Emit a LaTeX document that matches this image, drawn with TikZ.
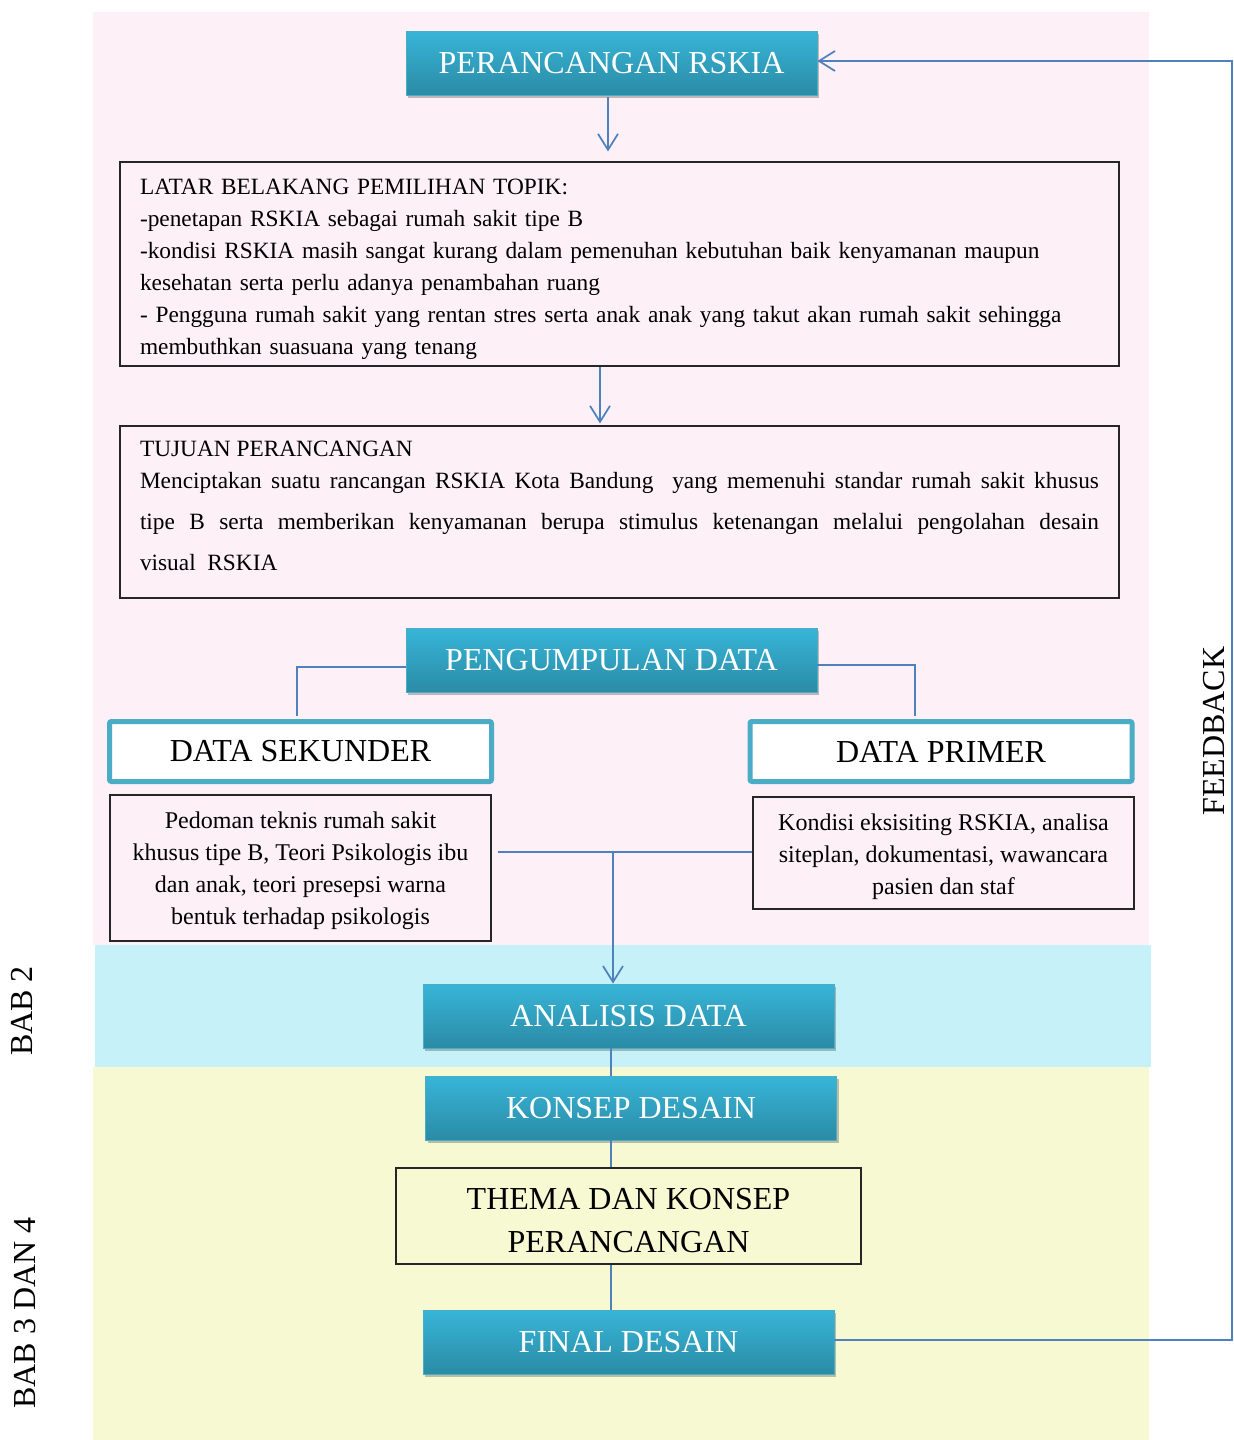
\documentclass[tikz,border=0pt]{standalone}
\usepackage{fontspec}
\setmainfont{Liberation Serif}
\usetikzlibrary{arrows.meta,shadows}
\definecolor{bgpink}{RGB}{253,240,246}
\definecolor{bgblue}{RGB}{198,241,249}
\definecolor{bgyellow}{RGB}{247,249,211}
\definecolor{hdrtop}{RGB}{56,181,216}
\definecolor{hdrbot}{RGB}{42,139,165}
\definecolor{hdredge}{RGB}{75,172,198}
\definecolor{linkblue}{RGB}{79,129,189}
\hyphenpenalty=10000
\begin{document}
\begin{tikzpicture}[x=0.75pt,y=-0.75pt,
  hdr/.style={top color=hdrtop, bottom color=hdrbot, draw=hdredge, line width=0.6pt,
    text=white, font=\fontsize{24pt}{28pt}\selectfont, minimum width=308.25pt,
    minimum height=48pt, inner sep=0pt,
    drop shadow={shadow xshift=1.5pt, shadow yshift=-2.5pt, opacity=0.35, fill=black!70}},
  txtbox/.style={draw=black!85, line width=0.8pt, inner sep=0pt,
    font=\fontsize{18pt}{24pt}\selectfont},
  srcbox/.style={draw=hdredge, line width=3.75pt, fill=white, rounded corners=1.5pt,
    minimum width=286.5pt, minimum height=45pt, font=\fontsize{24pt}{28pt}\selectfont},
  link/.style={draw=linkblue, line width=1.3pt},
  arr/.style={link, -{Straight Barb[length=12pt,width=15pt]}},
  side/.style={rotate=90, font=\fontsize{24pt}{28pt}\selectfont}]
 	\useasboundingbox (0,0) rectangle (1234,1440);
 	% bands
 	\fill[bgpink] (93,12) rectangle (1149,945);
 	\fill[bgblue] (95,945) rectangle (1151,1067);
 	\fill[bgyellow] (93,1067) rectangle (1149,1440);
 	% nodes
 	\node[hdr] (top) at (611.5,63) {PERANCANGAN RSKIA};
 	\node[txtbox, minimum width=749.25pt, minimum height=153pt, text width=719.25pt, align=left,
 	   font=\fontsize{17.5pt}{24pt}\selectfont] (bg) at (619.5,264)
 	   {\rule{0pt}{19pt}LATAR BELAKANG PEMILIHAN TOPIK:\\
 	    -penetapan RSKIA sebagai rumah sakit tipe B\\
 	    -kondisi RSKIA masih sangat kurang dalam pemenuhan kebutuhan baik kenyamanan maupun\\
 	    kesehatan serta perlu adanya penambahan ruang\\
 	    - Pengguna rumah sakit yang rentan stres serta anak anak yang takut akan rumah sakit sehingga\\
 	    membuthkan suasuana yang tenang};
 	\node[txtbox, minimum width=749.25pt, minimum height=129pt, text width=719.25pt, align=justify,
 	   font=\fontsize{17.5pt}{24pt}\selectfont] (goal) at (619.5,512)
 	   {\parindent=0pt\tolerance=10000
 	    TUJUAN PERANCANGAN\par
 	    \vspace{-6.75pt}\baselineskip=30.75pt
 	    Menciptakan suatu rancangan RSKIA Kota Bandung \ yang memenuhi standar rumah sakit khusus\linebreak
 	    tipe B serta memberikan kenyamanan berupa stimulus ketenangan melalui pengolahan desain\linebreak
 	    visual \ RSKIA\rule[-10pt]{0pt}{0pt}\par};
 	\node[hdr] (peng) at (611.5,660) {PENGUMPULAN DATA};
 	\node[srcbox] (sek) at (300.5,751.5) {DATA SEKUNDER};
 	\node[srcbox] (pri) at (941,751.5) {DATA PRIMER};
 	\node[txtbox, minimum width=285.75pt, minimum height=109.5pt, align=center] (sekTxt) at (300.5,868)
 	   {\rule{0pt}{16pt}Pedoman teknis rumah sakit\\khusus tipe B, Teori Psikologis ibu\\dan anak, teori presepsi warna\\bentuk terhadap psikologis};
 	\node[txtbox, minimum width=285.75pt, minimum height=84pt, align=center] (priTxt) at (943.5,853)
 	   {\rule{0pt}{18pt}Kondisi eksisiting RSKIA, analisa\\siteplan, dokumentasi, wawancara\\pasien dan staf};
 	\node[hdr] (anl) at (628.5,1016) {ANALISIS DATA};
 	\node[hdr] (kon) at (631,1108) {KONSEP DESAIN};
 	\node[txtbox, minimum width=348.75pt, minimum height=72pt, align=center,
 	   font=\fontsize{24pt}{32.25pt}\selectfont] (thm) at (628.5,1216) {\rule{0pt}{23pt}THEMA DAN KONSEP\\PERANCANGAN};
 	\node[hdr] (fin) at (628.5,1342) {FINAL DESAIN};
 	% side labels
 	\node[side] (bab2) at (22,1011) {BAB 2};
 	\node[side] (bab34) at (25,1313) {BAB 3 DAN 4};
 	\node[side] (fb) at (1214,731) {FEEDBACK};
 	% connectors
 	\draw[arr, shorten <=1.5pt, shorten >=7.5pt] (top.south -| 608,0) -- (bg.north -| 608,0);
 	\draw[arr, shorten >=1.5pt] (bg.south -| 600,0) -- (goal.north -| 600,0);
 	\draw[link, shorten >=2pt] ([yshift=-5pt]peng.west) -| ([xshift=-2.6pt]sek.north);
 	\draw[link, shorten >=2pt] ([yshift=-4pt]peng.east) -| ([xshift=-19.5pt]pri.north);
 	\coordinate (jn) at (613,852);
 	\draw[link, shorten <=4.5pt] (sekTxt.east |- jn) -- (priTxt.west |- jn);
 	\draw[arr] (jn) -- (jn |- anl.north);
 	\foreach \a/\b in {anl/kon,kon/thm,thm/fin}
 	   	\draw[link] (\a.south -| 611,0) -- (\b.north -| 611,0);
 	\draw[arr] ([yshift=1.5pt]fin.east) -- ([yshift=1.5pt]fin.east -| 1232,0) |- ([yshift=1.5pt]top.east);
\end{tikzpicture}
\end{document}
